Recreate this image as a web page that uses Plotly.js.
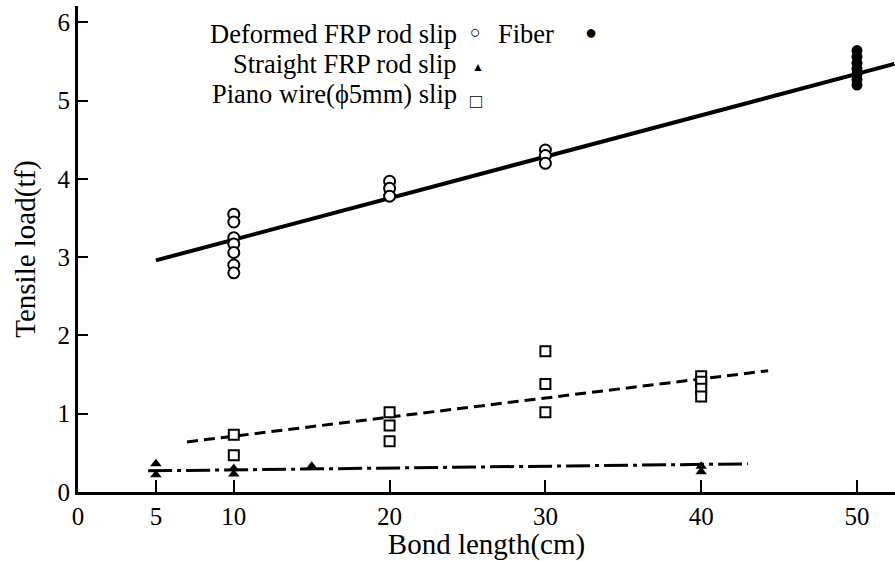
<!DOCTYPE html>
<html><head><meta charset="utf-8">
<script src="https://cdn.plot.ly/plotly-3.0.1.min.js"></script>
<style>html,body{margin:0;padding:0;background:#fff}#chart{width:895px;height:561px}</style>
</head><body><div id="chart"></div>
<script>
// Deformed FRP rod slip (open circles)
const deformedX = [10,10,10,10,10,10,10, 20,20,20, 30,30,30];
const deformedY = [3.55,3.45,3.25,3.17,3.06,2.9,2.8, 3.97,3.88,3.78, 4.37,4.3,4.2];
// Fiber (filled circles)
const fiberX = [50,50,50,50,50,50,50];
const fiberY = [5.64,5.56,5.48,5.41,5.34,5.27,5.2];
// Straight FRP rod slip (triangles)
const straightX = [5,5,10,10,15,40,40];
const straightY = [0.36,0.22,0.3,0.23,0.33,0.33,0.26];
// Piano wire (phi 5mm) slip (open squares)
const pianoX = [10,10, 20,20,20, 30,30,30, 40,40,40,40];
const pianoY = [0.73,0.47, 1.02,0.85,0.65, 1.8,1.38,1.02, 1.48,1.41,1.32,1.22];
// Fitted lines
const fitSolidX = [5, 52.4];   const fitSolidY = [2.96, 5.47];
const fitDashX = [7, 44.3];    const fitDashY = [0.64, 1.55];
const fitDashDotX = [4.5, 43]; const fitDashDotY = [0.27, 0.36];
// Axis ticks
const xTicks = [0,5,10,20,30,40,50];
const yTicks = [0,1,2,3,4,5,6];

const serif = "Liberation Serif, Times New Roman, serif";
const traces = [
  {x: fitSolidX, y: fitSolidY, mode:'lines', line:{color:'#000', width:4}},
  {x: fitDashX, y: fitDashY, mode:'lines', line:{color:'#000', width:3, dash:'11px,6px'}},
  {x: fitDashDotX, y: fitDashDotY, mode:'lines', line:{color:'#000', width:3, dash:'24px,5px,4px,5px'}},
  {x: deformedX, y: deformedY, mode:'markers', marker:{symbol:'circle', size:11, color:'#fff', line:{color:'#000', width:2}}},
  {x: fiberX, y: fiberY, mode:'markers', marker:{symbol:'circle', size:11, color:'#000'}},
  {x: pianoX, y: pianoY, mode:'markers', marker:{symbol:'square', size:10, color:'#fff', line:{color:'#000', width:2}}},
  {x: straightX, y: straightY, mode:'markers', marker:{symbol:'triangle-up', size:10, color:'#000'}}
];
const ann = (x,y,text,size,anchor) => ({xref:'paper', yref:'paper', x:x, y:y, text:text, showarrow:false,
  borderpad:0, xanchor:anchor||'right', yanchor:'middle', font:{family:serif, size:size, color:'#000'}});
// paper coords: plot x from 78 to 895 (817 px), y from 6 to 492 (486 px)
const px = v => (v-78)/817, py = v => (492-v)/486;
const layout = {
  width:895, height:561, showlegend:false,
  paper_bgcolor:'#fff', plot_bgcolor:'#fff',
  margin:{l:78, r:0, t:6, b:69},
  font:{family:serif, color:'#000'},
  xaxis:{range:[0,52.44], tickvals:xTicks, ticktext:xTicks.map(String), ticks:'inside', ticklen:12, tickwidth:2,
    tickcolor:'#000', showline:true, linecolor:'#000', linewidth:3, showgrid:false, zeroline:false,
    tickfont:{family:serif, size:25}, title:{text:'Bond length(cm)', font:{family:serif, size:29}, standoff:8}},
  yaxis:{range:[0,6.21], tickvals:yTicks, ticks:'inside', ticklen:10, tickwidth:2,
    tickcolor:'#000', showline:true, linecolor:'#000', linewidth:3, showgrid:false, zeroline:false,
    tickfont:{family:serif, size:25}, title:{text:'Tensile load(tf)', font:{family:serif, size:29}, standoff:14}},
  annotations:[
    ann(px(458), py(34), 'Deformed FRP rod slip', 26.5),
    ann(px(469), py(32), '○', 18, 'left'),
    ann(px(497), py(34), 'Fiber', 26.5, 'left'),
    ann(px(584), py(32), '●', 20, 'left'),
    ann(px(458), py(64), 'Straight FRP rod slip', 26.5),
    ann(px(471), py(67), '▲', 12, 'left'),
    ann(px(458), py(94), 'Piano wire(ϕ5mm) slip', 26.5),
    ann(px(469), py(101), '□', 20, 'left')
  ]
};
Plotly.newPlot('chart', traces, layout, {staticPlot:true});
</script></body></html>
